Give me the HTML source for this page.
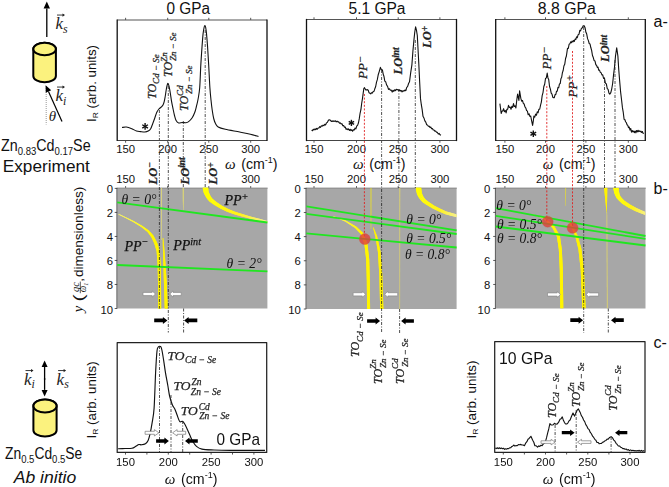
<!DOCTYPE html><html><head><meta charset="utf-8"><style>html,body{margin:0;padding:0;background:#fff;overflow:hidden}svg{display:block}</style></head><body><svg width="669" height="487" viewBox="0 0 669 487">
<rect width="669" height="487" fill="#fff"/>
<line x1="46.8" y1="37" x2="46.8" y2="8.5" stroke="#000" stroke-width="1.3" />
<polygon points="46.8,1.5 50.00,8.50 43.60,8.50" fill="#000"/>
<text x="55.5" y="29" font-size="17" font-family="Liberation Serif, serif" font-style="italic" fill="#222">k<tspan font-size="11.9" dy="3.7">s</tspan></text>
<line x1="57.0" y1="15.06" x2="64.0" y2="15.06" stroke="#222" stroke-width="0.9" />
<polygon points="65.0,15.06 62.5,13.46 62.5,16.66" fill="#222"/>
<path d="M33.3,49 L33.3,76 A11.3,6.3 0 0 0 55.900000000000006,76 L55.900000000000006,49 A11.3,6.3 0 0 0 33.3,49 Z" fill="#fbf27e" stroke="#000" stroke-width="2"/>
<ellipse cx="44.6" cy="49" rx="11.3" ry="6.3" fill="#fbf27e" stroke="#000" stroke-width="2"/>
<line x1="46.2" y1="86" x2="46.2" y2="124.5" stroke="#999" stroke-width="1" stroke-dasharray="1,1"/>
<line x1="62" y1="121.6" x2="48.475468590427525" y2="91.58213760314402" stroke="#000" stroke-width="1.2" />
<polygon points="45.6,85.2 51.21,90.35 45.74,92.81" fill="#000"/>
<text x="55.5" y="101" font-size="17" font-family="Liberation Serif, serif" font-style="italic" fill="#222">k<tspan font-size="11.9" dy="3.7">i</tspan></text>
<line x1="57.0" y1="87.06" x2="64.0" y2="87.06" stroke="#222" stroke-width="0.9" />
<polygon points="65.0,87.06 62.5,85.46000000000001 62.5,88.66" fill="#222"/>
<text x="48.8" y="120.8" font-size="15" font-family="Liberation Serif, serif" fill="#222" text-anchor="start" font-style="italic">θ</text>
<text x="1" y="151.2" font-size="16.5" font-family="Liberation Sans, sans-serif" fill="#111" textLength="89.6" lengthAdjust="spacingAndGlyphs">Zn<tspan font-size="11" dy="4">0.83</tspan><tspan dy="-4">Cd</tspan><tspan font-size="11" dy="4">0.17</tspan><tspan dy="-4">Se</tspan></text>
<text x="2.8" y="171.8" font-size="16.5" font-family="Liberation Sans, sans-serif" fill="#111" textLength="87" lengthAdjust="spacingAndGlyphs">Experiment</text>
<line x1="125.6" y1="17.8" x2="125.6" y2="20" stroke="#444" stroke-width="0.9" />
<line x1="125.6" y1="140.5" x2="125.6" y2="142.7" stroke="#444" stroke-width="0.9" />
<line x1="167.7" y1="17.8" x2="167.7" y2="20" stroke="#444" stroke-width="0.9" />
<line x1="167.7" y1="140.5" x2="167.7" y2="142.7" stroke="#444" stroke-width="0.9" />
<line x1="208.8" y1="17.8" x2="208.8" y2="20" stroke="#444" stroke-width="0.9" />
<line x1="208.8" y1="140.5" x2="208.8" y2="142.7" stroke="#444" stroke-width="0.9" />
<line x1="250.7" y1="17.8" x2="250.7" y2="20" stroke="#444" stroke-width="0.9" />
<line x1="250.7" y1="140.5" x2="250.7" y2="142.7" stroke="#444" stroke-width="0.9" />
<text x="125.6" y="152.8" font-size="11.3" font-family="Liberation Sans, sans-serif" fill="#111" text-anchor="middle" >150</text>
<text x="167.7" y="152.8" font-size="11.3" font-family="Liberation Sans, sans-serif" fill="#111" text-anchor="middle" >200</text>
<text x="208.8" y="152.8" font-size="11.3" font-family="Liberation Sans, sans-serif" fill="#111" text-anchor="middle" >250</text>
<text x="250.7" y="152.8" font-size="11.3" font-family="Liberation Sans, sans-serif" fill="#111" text-anchor="middle" >300</text>
<line x1="314" y1="17.3" x2="314" y2="19.5" stroke="#444" stroke-width="0.9" />
<line x1="314" y1="140.5" x2="314" y2="142.7" stroke="#444" stroke-width="0.9" />
<line x1="356.5" y1="17.3" x2="356.5" y2="19.5" stroke="#444" stroke-width="0.9" />
<line x1="356.5" y1="140.5" x2="356.5" y2="142.7" stroke="#444" stroke-width="0.9" />
<line x1="398.2" y1="17.3" x2="398.2" y2="19.5" stroke="#444" stroke-width="0.9" />
<line x1="398.2" y1="140.5" x2="398.2" y2="142.7" stroke="#444" stroke-width="0.9" />
<line x1="439.9" y1="17.3" x2="439.9" y2="19.5" stroke="#444" stroke-width="0.9" />
<line x1="439.9" y1="140.5" x2="439.9" y2="142.7" stroke="#444" stroke-width="0.9" />
<text x="314" y="152.8" font-size="11.3" font-family="Liberation Sans, sans-serif" fill="#111" text-anchor="middle" >150</text>
<text x="356.5" y="152.8" font-size="11.3" font-family="Liberation Sans, sans-serif" fill="#111" text-anchor="middle" >200</text>
<text x="398.2" y="152.8" font-size="11.3" font-family="Liberation Sans, sans-serif" fill="#111" text-anchor="middle" >250</text>
<text x="439.9" y="152.8" font-size="11.3" font-family="Liberation Sans, sans-serif" fill="#111" text-anchor="middle" >300</text>
<line x1="504.9" y1="17.3" x2="504.9" y2="19.5" stroke="#444" stroke-width="0.9" />
<line x1="504.9" y1="140.5" x2="504.9" y2="142.7" stroke="#444" stroke-width="0.9" />
<line x1="545.5" y1="17.3" x2="545.5" y2="19.5" stroke="#444" stroke-width="0.9" />
<line x1="545.5" y1="140.5" x2="545.5" y2="142.7" stroke="#444" stroke-width="0.9" />
<line x1="585.9" y1="17.3" x2="585.9" y2="19.5" stroke="#444" stroke-width="0.9" />
<line x1="585.9" y1="140.5" x2="585.9" y2="142.7" stroke="#444" stroke-width="0.9" />
<line x1="628.3" y1="17.3" x2="628.3" y2="19.5" stroke="#444" stroke-width="0.9" />
<line x1="628.3" y1="140.5" x2="628.3" y2="142.7" stroke="#444" stroke-width="0.9" />
<text x="504.9" y="152.8" font-size="11.3" font-family="Liberation Sans, sans-serif" fill="#111" text-anchor="middle" >150</text>
<text x="545.5" y="152.8" font-size="11.3" font-family="Liberation Sans, sans-serif" fill="#111" text-anchor="middle" >200</text>
<text x="585.9" y="152.8" font-size="11.3" font-family="Liberation Sans, sans-serif" fill="#111" text-anchor="middle" >250</text>
<text x="628.3" y="152.8" font-size="11.3" font-family="Liberation Sans, sans-serif" fill="#111" text-anchor="middle" >300</text>
<path d="M122.00,127.50 C122.72,127.42 124.67,126.80 126.30,127.00 C127.93,127.20 130.10,128.03 131.80,128.70 C133.50,129.37 135.05,130.52 136.50,131.00 C137.95,131.48 139.10,131.43 140.50,131.60 C141.90,131.77 143.62,132.08 144.90,132.00 C146.18,131.92 147.23,131.65 148.20,131.10 C149.17,130.55 149.95,129.93 150.70,128.70 C151.45,127.47 152.02,125.48 152.70,123.70 C153.38,121.92 154.12,119.92 154.80,118.00 C155.48,116.08 156.12,113.70 156.80,112.20 C157.48,110.70 158.13,109.88 158.90,109.00 C159.67,108.12 160.72,107.58 161.40,106.90 C162.08,106.22 162.53,105.78 163.00,104.90 C163.47,104.02 163.83,103.00 164.20,101.60 C164.57,100.20 164.87,98.43 165.20,96.50 C165.53,94.57 165.88,91.85 166.20,90.00 C166.52,88.15 166.82,86.50 167.10,85.40 C167.38,84.30 167.62,83.40 167.90,83.40 C168.18,83.40 168.48,84.30 168.80,85.40 C169.12,86.50 169.50,88.40 169.80,90.00 C170.10,91.60 170.30,93.07 170.60,95.00 C170.90,96.93 171.22,99.42 171.60,101.60 C171.98,103.78 172.42,105.78 172.90,108.10 C173.38,110.42 173.97,113.43 174.50,115.50 C175.03,117.57 175.42,119.27 176.10,120.50 C176.78,121.73 177.57,122.57 178.60,122.90 C179.63,123.23 181.08,122.53 182.30,122.50 C183.52,122.47 184.85,122.85 185.90,122.70 C186.95,122.55 187.55,122.43 188.60,121.60 C189.65,120.77 191.17,119.25 192.20,117.70 C193.23,116.15 194.08,114.25 194.80,112.30 C195.52,110.35 195.95,108.22 196.50,106.00 C197.05,103.78 197.57,102.03 198.10,99.00 C198.63,95.97 199.25,93.43 199.70,87.80 C200.15,82.17 200.42,71.98 200.80,65.20 C201.18,58.42 201.62,52.37 202.00,47.10 C202.38,41.83 202.73,36.95 203.10,33.60 C203.47,30.25 203.90,28.33 204.20,27.00 C204.50,25.67 204.67,25.60 204.90,25.60 C205.13,25.60 205.33,25.67 205.60,27.00 C205.87,28.33 206.17,30.25 206.50,33.60 C206.83,36.95 207.23,41.83 207.60,47.10 C207.97,52.37 208.32,58.42 208.70,65.20 C209.08,71.98 209.52,82.00 209.90,87.80 C210.28,93.60 210.62,96.30 211.00,100.00 C211.38,103.70 211.75,106.92 212.20,110.00 C212.65,113.08 213.15,116.25 213.70,118.50 C214.25,120.75 214.75,122.08 215.50,123.50 C216.25,124.92 216.57,126.03 218.20,127.00 C219.83,127.97 221.72,128.47 225.30,129.30 C228.88,130.13 235.52,131.18 239.70,132.00 C243.88,132.82 247.27,133.45 250.40,134.20 C253.53,134.95 257.15,136.12 258.50,136.50" fill="none" stroke="#111" stroke-width="1.1"/>
<path d="M311.60,130.05 L312.42,130.79 L313.23,129.22 L314.05,129.97 L314.87,128.96 L315.68,129.66 L316.50,128.42 L317.32,129.25 L318.13,127.95 L318.95,127.93 L319.77,126.64 L320.58,127.35 L321.40,125.85 L322.23,126.19 L323.07,125.12 L323.90,125.72 L324.73,124.33 L325.57,124.93 L326.40,122.96 L327.33,122.38 L328.27,120.52 L329.20,119.71 L330.50,120.34 L331.32,121.50 L332.14,120.80 L332.96,121.53 L333.78,120.92 L334.60,121.40 L335.43,120.78 L336.25,121.83 L337.07,121.17 L337.90,121.91 L338.72,121.86 L339.54,123.17 L340.36,122.93 L341.18,124.01 L342.00,123.70 L342.82,125.78 L343.64,125.55 L344.46,127.26 L345.28,127.04 L346.10,129.41 L346.93,128.74 L347.75,129.62 L348.57,128.90 L349.40,130.42 L350.20,129.24 L351.00,130.63 L351.80,129.71 L352.60,131.19 L353.43,129.65 L354.25,129.94 L355.07,128.08 L355.90,128.90 L356.73,126.05 L357.57,125.40 L358.40,123.02 L359.23,118.88 L360.07,113.26 L360.90,109.73 L361.70,103.28 L362.50,98.31 L363.80,88.59 L364.50,87.69 L365.80,90.00 L367.40,89.64 L368.23,90.21 L369.07,92.86 L369.90,93.21 L370.73,93.85 L371.57,92.69 L372.40,93.08 L373.20,91.61 L374.00,91.31 L374.80,88.81 L375.63,86.74 L376.47,82.39 L377.30,79.67 L378.30,74.47 L379.30,71.29 L380.40,67.35 L381.40,69.76 L382.40,69.79 L383.20,74.08 L384.00,76.54 L384.80,81.07 L385.73,81.92 L386.65,85.05 L387.57,86.42 L388.50,89.41 L389.43,88.75 L390.35,90.31 L391.27,90.11 L392.20,92.09 L393.03,90.34 L393.87,91.37 L394.70,89.72 L395.53,90.56 L396.37,89.21 L397.20,89.83 L398.02,89.54 L398.83,90.78 L399.65,89.88 L400.47,91.02 L401.28,90.58 L402.10,91.87 L403.03,90.71 L403.95,91.18 L404.88,90.00 L405.80,90.76 L406.73,87.47 L407.65,86.30 L408.57,83.50 L409.50,81.81 L410.70,72.63 L411.90,64.83 L412.90,51.29 L413.90,40.37 L414.75,32.28 L415.60,26.88 L416.45,30.18 L417.30,35.50 L418.80,63.71 L419.65,81.76 L420.50,98.63 L421.33,104.70 L422.17,109.62 L423.00,116.32 L423.93,117.92 L424.85,120.86 L425.77,122.07 L426.70,124.80 L427.52,124.95 L428.33,126.33 L429.15,126.18 L429.97,127.40 L430.78,127.07 L431.60,128.75 L432.42,128.55 L433.23,130.00 L434.05,129.97 L434.87,131.17 L435.68,130.95 L436.50,132.28 L437.40,132.41 L438.30,134.02 L439.20,133.43 L440.10,134.85 L441.00,135.20" fill="none" stroke="#111" stroke-width="1.1" stroke-linejoin="round"/>
<path d="M499.90,103.65 L501.20,113.55 L502.00,111.15 L502.80,110.98 L503.60,108.67 L504.43,111.66 L505.27,110.51 L506.10,112.88 L506.90,109.38 L507.70,109.12 L508.50,105.34 L509.33,107.42 L510.17,107.09 L511.00,109.27 L511.83,106.35 L512.67,107.43 L513.50,103.65 L514.30,106.56 L515.10,105.84 L515.90,107.94 L516.75,100.30 L517.60,94.09 L518.90,100.46 L519.60,90.79 L520.80,98.14 L521.63,101.22 L522.47,100.46 L523.30,103.34 L524.13,104.03 L524.97,106.85 L525.80,108.00 L526.60,110.64 L527.40,111.08 L528.20,114.80 L529.03,113.77 L529.87,116.42 L530.70,116.01 L531.80,121.59 L532.60,125.48 L533.20,121.70 L533.90,116.15 L534.75,117.08 L535.60,114.17 L536.43,115.25 L537.27,111.87 L538.10,112.73 L538.90,109.22 L539.70,109.24 L540.50,105.46 L541.33,102.08 L542.17,95.56 L543.00,92.62 L543.83,86.52 L544.67,84.32 L545.50,78.47 L546.35,77.83 L547.20,73.00 L547.95,77.99 L548.70,79.45 L549.55,86.47 L550.40,89.19 L551.20,93.12 L552.00,94.01 L552.80,97.25 L553.60,97.81 L554.33,97.68 L555.05,94.50 L555.77,94.69 L556.50,91.39 L557.24,91.22 L557.98,87.42 L558.72,87.71 L559.46,83.98 L560.20,83.60 L560.94,78.66 L561.68,77.27 L562.42,72.62 L563.16,70.48 L563.90,66.01 L564.73,64.33 L565.57,58.49 L566.40,56.04 L567.50,48.39 L568.30,48.48 L569.10,44.23 L569.90,43.86 L570.64,41.87 L571.38,42.72 L572.12,40.96 L572.86,41.94 L573.60,40.40 L574.34,41.33 L575.08,39.05 L575.82,39.48 L576.56,36.79 L577.30,37.71 L578.13,34.69 L578.97,34.31 L579.80,30.40 L580.60,30.87 L581.40,28.34 L582.20,28.04 L583.20,25.71 L584.20,25.86 L585.05,27.65 L585.90,32.35 L586.73,34.08 L587.57,38.65 L588.40,40.62 L589.20,43.49 L590.00,43.93 L590.80,47.52 L591.63,50.35 L592.47,55.48 L593.30,57.54 L594.13,60.54 L594.97,60.98 L595.80,64.72 L596.54,65.24 L597.28,67.40 L598.02,67.12 L598.76,70.29 L599.50,70.12 L600.30,72.34 L601.10,72.67 L601.90,74.93 L602.73,74.78 L603.57,78.50 L604.40,77.90 L605.40,83.20 L606.40,84.04 L607.25,88.69 L608.10,89.45 L608.95,93.14 L609.80,94.15 L610.80,92.59 L611.80,88.53 L612.65,83.48 L613.50,75.43 L614.50,67.14 L615.50,56.03 L616.70,47.77 L617.90,56.10 L618.75,69.61 L619.60,80.24 L620.60,91.88 L621.60,100.31 L622.43,107.66 L623.27,112.45 L624.10,119.34 L624.84,119.55 L625.58,121.74 L626.32,122.59 L627.06,124.77 L627.80,125.44 L628.54,127.72 L629.28,127.01 L630.02,130.08 L630.76,128.57 L631.50,132.09 L632.24,130.54 L632.98,132.00 L633.72,131.00 L634.46,132.63 L635.20,131.09 L635.92,132.85 L636.64,130.52 L637.36,131.81 L638.08,130.34 L638.80,131.61 L639.51,130.88 L640.23,131.78 L640.94,131.14 L641.66,132.55 L642.37,131.50 L643.09,133.37 L643.80,133.20" fill="none" stroke="#111" stroke-width="1.1" stroke-linejoin="round"/>
<rect x="117.2" y="187.8" width="150.2" height="120.69999999999999" fill="#a7a7a7"/>
<line x1="117.2" y1="188.20000000000002" x2="267.7" y2="188.20000000000002" stroke="#8a8a8a" stroke-width="0.9" />
<line x1="125.6" y1="186.20000000000002" x2="125.6" y2="187.8" stroke="#333" stroke-width="0.9" />
<line x1="167.7" y1="186.20000000000002" x2="167.7" y2="187.8" stroke="#333" stroke-width="0.9" />
<line x1="208.8" y1="186.20000000000002" x2="208.8" y2="187.8" stroke="#333" stroke-width="0.9" />
<line x1="250.7" y1="186.20000000000002" x2="250.7" y2="187.8" stroke="#333" stroke-width="0.9" />
<line x1="116.9" y1="187.8" x2="116.9" y2="308.5" stroke="#333" stroke-width="0.8" />
<line x1="114.7" y1="188.4" x2="117.2" y2="188.4" stroke="#333" stroke-width="0.8" />
<line x1="114.7" y1="212.42000000000002" x2="117.2" y2="212.42000000000002" stroke="#333" stroke-width="0.8" />
<line x1="114.7" y1="236.44" x2="117.2" y2="236.44" stroke="#333" stroke-width="0.8" />
<line x1="114.7" y1="260.46" x2="117.2" y2="260.46" stroke="#333" stroke-width="0.8" />
<line x1="114.7" y1="284.48" x2="117.2" y2="284.48" stroke="#333" stroke-width="0.8" />
<line x1="114.7" y1="308.5" x2="117.2" y2="308.5" stroke="#333" stroke-width="0.8" />
<rect x="306.3" y="187.8" width="150.3" height="121.19999999999999" fill="#a7a7a7"/>
<line x1="306.3" y1="188.20000000000002" x2="456.90000000000003" y2="188.20000000000002" stroke="#8a8a8a" stroke-width="0.9" />
<line x1="314" y1="186.20000000000002" x2="314" y2="187.8" stroke="#333" stroke-width="0.9" />
<line x1="356.5" y1="186.20000000000002" x2="356.5" y2="187.8" stroke="#333" stroke-width="0.9" />
<line x1="398.2" y1="186.20000000000002" x2="398.2" y2="187.8" stroke="#333" stroke-width="0.9" />
<line x1="439.9" y1="186.20000000000002" x2="439.9" y2="187.8" stroke="#333" stroke-width="0.9" />
<line x1="306.0" y1="187.8" x2="306.0" y2="309" stroke="#333" stroke-width="0.8" />
<line x1="303.8" y1="188.4" x2="306.3" y2="188.4" stroke="#333" stroke-width="0.8" />
<line x1="303.8" y1="212.52" x2="306.3" y2="212.52" stroke="#333" stroke-width="0.8" />
<line x1="303.8" y1="236.64" x2="306.3" y2="236.64" stroke="#333" stroke-width="0.8" />
<line x1="303.8" y1="260.76" x2="306.3" y2="260.76" stroke="#333" stroke-width="0.8" />
<line x1="303.8" y1="284.88" x2="306.3" y2="284.88" stroke="#333" stroke-width="0.8" />
<line x1="303.8" y1="309.0" x2="306.3" y2="309.0" stroke="#333" stroke-width="0.8" />
<rect x="495.7" y="187.8" width="149.8" height="120.69999999999999" fill="#a7a7a7"/>
<line x1="495.7" y1="188.20000000000002" x2="645.8" y2="188.20000000000002" stroke="#8a8a8a" stroke-width="0.9" />
<line x1="504.9" y1="186.20000000000002" x2="504.9" y2="187.8" stroke="#333" stroke-width="0.9" />
<line x1="545.5" y1="186.20000000000002" x2="545.5" y2="187.8" stroke="#333" stroke-width="0.9" />
<line x1="585.9" y1="186.20000000000002" x2="585.9" y2="187.8" stroke="#333" stroke-width="0.9" />
<line x1="628.3" y1="186.20000000000002" x2="628.3" y2="187.8" stroke="#333" stroke-width="0.9" />
<line x1="495.4" y1="187.8" x2="495.4" y2="308.5" stroke="#333" stroke-width="0.8" />
<line x1="493.2" y1="188.4" x2="495.7" y2="188.4" stroke="#333" stroke-width="0.8" />
<line x1="493.2" y1="212.42000000000002" x2="495.7" y2="212.42000000000002" stroke="#333" stroke-width="0.8" />
<line x1="493.2" y1="236.44" x2="495.7" y2="236.44" stroke="#333" stroke-width="0.8" />
<line x1="493.2" y1="260.46" x2="495.7" y2="260.46" stroke="#333" stroke-width="0.8" />
<line x1="493.2" y1="284.48" x2="495.7" y2="284.48" stroke="#333" stroke-width="0.8" />
<line x1="493.2" y1="308.5" x2="495.7" y2="308.5" stroke="#333" stroke-width="0.8" />
<text x="125.6" y="183.2" font-size="11.3" font-family="Liberation Sans, sans-serif" fill="#111" text-anchor="middle" >150</text>
<text x="250.7" y="183.2" font-size="11.3" font-family="Liberation Sans, sans-serif" fill="#111" text-anchor="middle" >300</text>
<text x="314" y="183.2" font-size="11.3" font-family="Liberation Sans, sans-serif" fill="#111" text-anchor="middle" >150</text>
<text x="356.5" y="183.2" font-size="11.3" font-family="Liberation Sans, sans-serif" fill="#111" text-anchor="middle" >200</text>
<text x="398.2" y="183.2" font-size="11.3" font-family="Liberation Sans, sans-serif" fill="#111" text-anchor="middle" >250</text>
<text x="439.9" y="183.2" font-size="11.3" font-family="Liberation Sans, sans-serif" fill="#111" text-anchor="middle" >300</text>
<text x="504.9" y="183.2" font-size="11.3" font-family="Liberation Sans, sans-serif" fill="#111" text-anchor="middle" >150</text>
<text x="545.5" y="183.2" font-size="11.3" font-family="Liberation Sans, sans-serif" fill="#111" text-anchor="middle" >200</text>
<text x="585.9" y="183.2" font-size="11.3" font-family="Liberation Sans, sans-serif" fill="#111" text-anchor="middle" >250</text>
<text x="628.3" y="183.2" font-size="11.3" font-family="Liberation Sans, sans-serif" fill="#111" text-anchor="middle" >300</text>
<text x="113.0" y="193.4" font-size="11.3" font-family="Liberation Sans, sans-serif" fill="#111" text-anchor="end" >0</text>
<text x="113.0" y="217.42000000000002" font-size="11.3" font-family="Liberation Sans, sans-serif" fill="#111" text-anchor="end" >2</text>
<text x="113.0" y="241.44" font-size="11.3" font-family="Liberation Sans, sans-serif" fill="#111" text-anchor="end" >4</text>
<text x="113.0" y="265.46000000000004" font-size="11.3" font-family="Liberation Sans, sans-serif" fill="#111" text-anchor="end" >6</text>
<text x="113.0" y="289.48" font-size="11.3" font-family="Liberation Sans, sans-serif" fill="#111" text-anchor="end" >8</text>
<text x="113.0" y="313.5" font-size="11.3" font-family="Liberation Sans, sans-serif" fill="#111" text-anchor="end" >10</text>
<text x="300.8" y="193.4" font-size="11.3" font-family="Liberation Sans, sans-serif" fill="#111" text-anchor="end" >0</text>
<text x="300.8" y="217.42000000000002" font-size="11.3" font-family="Liberation Sans, sans-serif" fill="#111" text-anchor="end" >2</text>
<text x="300.8" y="241.44" font-size="11.3" font-family="Liberation Sans, sans-serif" fill="#111" text-anchor="end" >4</text>
<text x="300.8" y="265.46000000000004" font-size="11.3" font-family="Liberation Sans, sans-serif" fill="#111" text-anchor="end" >6</text>
<text x="300.8" y="289.48" font-size="11.3" font-family="Liberation Sans, sans-serif" fill="#111" text-anchor="end" >8</text>
<text x="300.8" y="313.5" font-size="11.3" font-family="Liberation Sans, sans-serif" fill="#111" text-anchor="end" >10</text>
<text x="490.2" y="193.4" font-size="11.3" font-family="Liberation Sans, sans-serif" fill="#111" text-anchor="end" >0</text>
<text x="490.2" y="217.42000000000002" font-size="11.3" font-family="Liberation Sans, sans-serif" fill="#111" text-anchor="end" >2</text>
<text x="490.2" y="241.44" font-size="11.3" font-family="Liberation Sans, sans-serif" fill="#111" text-anchor="end" >4</text>
<text x="490.2" y="265.46000000000004" font-size="11.3" font-family="Liberation Sans, sans-serif" fill="#111" text-anchor="end" >6</text>
<text x="490.2" y="289.48" font-size="11.3" font-family="Liberation Sans, sans-serif" fill="#111" text-anchor="end" >8</text>
<text x="490.2" y="313.5" font-size="11.3" font-family="Liberation Sans, sans-serif" fill="#111" text-anchor="end" >10</text>
<text x="188.3" y="14.4" font-size="16" font-family="Liberation Sans, sans-serif" fill="#111" text-anchor="middle" textLength="43.5" lengthAdjust="spacingAndGlyphs">0 GPa</text>
<text x="377" y="14.2" font-size="16" font-family="Liberation Sans, sans-serif" fill="#111" text-anchor="middle" textLength="57" lengthAdjust="spacingAndGlyphs">5.1 GPa</text>
<text x="566.8" y="14.2" font-size="16" font-family="Liberation Sans, sans-serif" fill="#111" text-anchor="middle" textLength="58" lengthAdjust="spacingAndGlyphs">8.8 GPa</text>
<text x="653.5" y="26.6" font-size="16" font-family="Liberation Sans, sans-serif" fill="#111" text-anchor="start" >a-</text>
<text x="653.5" y="193.6" font-size="16" font-family="Liberation Sans, sans-serif" fill="#111" text-anchor="start" >b-</text>
<text x="653.5" y="348" font-size="16" font-family="Liberation Sans, sans-serif" fill="#111" text-anchor="start" >c-</text>
<text x="225" y="168.8" font-size="15" font-family="Liberation Serif, serif" font-style="italic" fill="#111">ω</text>
<text x="241.2" y="168.8" font-size="14.2" font-family="Liberation Sans, sans-serif" fill="#111">(cm<tspan font-size="9.0" dy="-6.0">-1</tspan><tspan dy="6.0">)</tspan></text>
<text x="353" y="168.8" font-size="15" font-family="Liberation Serif, serif" font-style="italic" fill="#111">ω</text>
<text x="369.2" y="168.8" font-size="14.2" font-family="Liberation Sans, sans-serif" fill="#111">(cm<tspan font-size="9.0" dy="-6.0">-1</tspan><tspan dy="6.0">)</tspan></text>
<text x="542.8" y="168.8" font-size="15" font-family="Liberation Serif, serif" font-style="italic" fill="#111">ω</text>
<text x="559.0" y="168.8" font-size="14.2" font-family="Liberation Sans, sans-serif" fill="#111">(cm<tspan font-size="9.0" dy="-6.0">-1</tspan><tspan dy="6.0">)</tspan></text>
<text transform="translate(95.6,122) rotate(-90)" font-size="12.5" font-family="Liberation Sans, sans-serif" fill="#111" textLength="77" lengthAdjust="spacingAndGlyphs">I<tspan font-size="8" dy="2.5">R</tspan><tspan dy="-2.5"> (arb. units)</tspan></text>
<text transform="translate(155.8,99) rotate(-90)" font-size="12" font-family="Liberation Serif, serif" font-style="italic"  fill="#222" stroke="#222" stroke-width="0.25">TO<tspan font-size="9.0" dy="3.6">Cd − Se</tspan></text>
<text transform="translate(172.3,77) rotate(-90)" font-size="12" font-family="Liberation Serif, serif" font-style="italic"  fill="#222" stroke="#222" stroke-width="0.25">TO<tspan font-size="9.0" dy="-5.4">Zn</tspan><tspan font-size="9.0" dx="-8.6" dy="9.4">Zn − Se</tspan></text>
<text transform="translate(188.4,111) rotate(-90)" font-size="12" font-family="Liberation Serif, serif" font-style="italic"  fill="#222" stroke="#222" stroke-width="0.25">TO<tspan font-size="9.0" dy="-5.4">Cd</tspan><tspan font-size="9.0" dx="-8.6" dy="9.4">Zn − Se</tspan></text>
<line x1="145.1" y1="123.1" x2="145.1" y2="129.7" stroke="#111" stroke-width="1.4" />
<line x1="142.24" y1="124.75" x2="147.96" y2="128.05" stroke="#111" stroke-width="1.4" />
<line x1="147.96" y1="124.75" x2="142.24" y2="128.05" stroke="#111" stroke-width="1.4" />
<text transform="translate(367.1,79) rotate(-90)" font-size="13" font-family="Liberation Serif, serif" font-style="italic"  fill="#222" stroke="#222" stroke-width="0.25">PP<tspan font-size="11.0" dy="-3.0">−</tspan></text>
<text transform="translate(401.5,74.5) rotate(-90)" font-size="12.5" font-family="Liberation Serif, serif" font-style="italic" font-weight="bold" fill="#222" stroke="#222" stroke-width="0.25">LO<tspan font-size="9.5" dy="-2.5">int</tspan></text>
<text transform="translate(431,48) rotate(-90)" font-size="12.5" font-family="Liberation Serif, serif" font-style="italic" font-weight="bold" fill="#222" stroke="#222" stroke-width="0.25">LO<tspan font-size="9.5" dy="-3.5">+</tspan></text>
<line x1="351.4" y1="119.8" x2="351.4" y2="126.0" stroke="#111" stroke-width="1.4" />
<line x1="348.72" y1="121.35" x2="354.08" y2="124.45" stroke="#111" stroke-width="1.4" />
<line x1="354.08" y1="121.35" x2="348.72" y2="124.45" stroke="#111" stroke-width="1.4" />
<text transform="translate(550.6,69.5) rotate(-90)" font-size="13" font-family="Liberation Serif, serif" font-style="italic"  fill="#222" stroke="#222" stroke-width="0.25">PP<tspan font-size="11.0" dy="-3.0">−</tspan></text>
<text transform="translate(576.6,97.5) rotate(-90)" font-size="13" font-family="Liberation Serif, serif" font-style="italic"  fill="#222" stroke="#222" stroke-width="0.25">PP<tspan font-size="10.0" dy="-3.5">+</tspan></text>
<text transform="translate(609,62) rotate(-90)" font-size="12.5" font-family="Liberation Serif, serif" font-style="italic" font-weight="bold" fill="#222" stroke="#222" stroke-width="0.25">LO<tspan font-size="9.5" dy="-2.5">int</tspan></text>
<line x1="533.3" y1="130.5" x2="533.3" y2="137.1" stroke="#111" stroke-width="1.4" />
<line x1="530.44" y1="132.15" x2="536.16" y2="135.45" stroke="#111" stroke-width="1.4" />
<line x1="536.16" y1="132.15" x2="530.44" y2="135.45" stroke="#111" stroke-width="1.4" />
<text transform="translate(156.5,184.5) rotate(-90)" font-size="12.5" font-family="Liberation Serif, serif" font-style="italic" font-weight="bold" fill="#222" stroke="#222" stroke-width="0.25">LO<tspan font-size="9.5" dy="-3.9">−</tspan></text>
<text transform="translate(189,184.5) rotate(-90)" font-size="12.5" font-family="Liberation Serif, serif" font-style="italic" font-weight="bold" fill="#222" stroke="#222" stroke-width="0.25">LO<tspan font-size="9.5" dy="-4.0">int</tspan></text>
<text transform="translate(216.5,184.5) rotate(-90)" font-size="12.5" font-family="Liberation Serif, serif" font-style="italic" font-weight="bold" fill="#222" stroke="#222" stroke-width="0.25">LO<tspan font-size="9.5" dy="-2.3">+</tspan></text>
<defs>
<clipPath id="g0"><rect x="117.2" y="187.8" width="150.2" height="120.69999999999999"/></clipPath>
<clipPath id="g1"><rect x="306.3" y="187.8" width="150.3" height="121.19999999999999"/></clipPath>
<clipPath id="g2"><rect x="495.7" y="187.8" width="149.8" height="120.69999999999999"/></clipPath>
<linearGradient id="ppfade1" x1="0" y1="0" x2="1" y2="0"><stop offset="0" stop-color="#ffff00"/><stop offset="0.55" stop-color="#fff21a"/><stop offset="1" stop-color="#f4ef9a"/></linearGradient>
<linearGradient id="ppm0" gradientUnits="userSpaceOnUse" x1="118" y1="0" x2="152" y2="0"><stop offset="0" stop-color="#f2ee70"/><stop offset="0.5" stop-color="#fbf530"/><stop offset="1" stop-color="#fff500"/></linearGradient>
<linearGradient id="ppm1" gradientUnits="userSpaceOnUse" x1="333" y1="0" x2="362" y2="0"><stop offset="0" stop-color="#f2ee70"/><stop offset="0.5" stop-color="#fbf530"/><stop offset="1" stop-color="#fff500"/></linearGradient>
<linearGradient id="ppm2" gradientUnits="userSpaceOnUse" x1="530" y1="0" x2="553" y2="0"><stop offset="0" stop-color="#f2ee70"/><stop offset="0.5" stop-color="#fbf530"/><stop offset="1" stop-color="#fff500"/></linearGradient>
<filter id="glow" x="-10%" y="-10%" width="120%" height="120%"><feGaussianBlur stdDeviation="0.55" result="b"/><feMerge><feMergeNode in="b"/><feMergeNode in="SourceGraphic"/></feMerge></filter>
</defs>
<g clip-path="url(#g0)"><g filter="url(#glow)">
<polygon points="202.31,185.29 202.93,189.37 203.82,192.97 205.54,196.23 207.24,199.03 209.76,201.68 214.38,205.08 220.83,208.81 227.13,211.63 233.46,213.92 239.06,215.65 250.71,218.86 259.73,221.12 268.74,223.47 269.26,221.53 260.27,219.08 251.29,216.74 239.74,213.35 234.34,211.48 228.27,208.97 222.37,205.99 216.42,202.12 212.44,198.72 210.76,196.57 209.66,194.17 208.58,191.43 208.27,188.63 208.09,184.71" fill="url(#ppfade1)" fill-opacity="1" clip-path="url(#g0)"/>
<polygon points="118.38,214.58 119.76,215.22 125.00,217.71 133.13,221.88 141.28,227.02 147.52,232.03 151.25,236.88 153.89,242.61 154.97,245.46 156.62,251.32 157.60,263.47 158.00,281.92 158.20,309.01 161.20,308.99 161.00,281.88 160.60,263.33 159.58,250.88 157.83,244.54 156.51,241.39 153.35,235.52 148.88,230.57 142.12,225.78 133.67,220.92 125.40,216.89 120.04,214.58 118.62,214.02" fill="url(#ppm0)" fill-opacity="1" clip-path="url(#g0)"/>
<polygon points="161.00,187.80 161.05,215.00 161.20,240.00 161.80,240.00 161.95,215.00 162.00,187.80" fill="#e8e070" fill-opacity="0.5" clip-path="url(#g0)"/>
<polygon points="162.75,238.01 162.80,245.03 163.30,261.45 163.90,281.96 164.75,309.06 167.85,308.94 166.70,281.84 165.30,261.35 164.00,244.97 163.25,237.99" fill="#fff200" fill-opacity="0.95" clip-path="url(#g0)"/>
<polygon points="182.70,187.80 182.80,200.00 183.10,210.00 183.50,210.00 183.80,200.00 183.90,187.80" fill="#e0d870" fill-opacity="0.7" clip-path="url(#g0)"/>
</g></g>
<g clip-path="url(#g1)"><g filter="url(#glow)">
<polygon points="415.51,185.21 415.92,189.35 416.99,194.05 418.45,197.05 420.20,199.54 422.69,202.24 426.41,204.80 432.79,208.54 439.05,211.61 445.41,214.16 451.03,215.70 457.67,217.41 458.33,214.99 451.77,213.10 446.39,211.44 440.35,208.79 434.41,205.66 428.39,201.80 425.31,199.36 423.60,197.06 422.55,194.95 421.81,192.75 421.28,188.65 421.09,184.79" fill="url(#ppfade1)" fill-opacity="1" clip-path="url(#g1)"/>
<polygon points="332.89,216.48 334.98,217.33 345.15,221.39 355.05,228.01 361.04,234.36 364.43,244.32 366.20,259.50 366.80,280.03 367.10,309.52 370.10,309.48 369.80,279.97 369.20,259.30 367.37,243.68 363.16,233.04 356.15,226.59 345.65,220.41 335.22,216.67 333.11,215.92" fill="url(#ppm1)" fill-opacity="1" clip-path="url(#g1)"/>
<polygon points="370.50,187.80 370.55,215.00 370.75,229.00 371.25,229.00 371.45,215.00 371.50,187.80" fill="#fff200" fill-opacity="0.4" clip-path="url(#g1)"/>
<polygon points="373.02,227.59 375.33,236.51 377.91,251.85 379.30,274.77 380.20,309.55 383.40,309.45 382.30,274.63 380.49,251.55 377.07,236.09 373.58,227.41" fill="#fff200" fill-opacity="0.95" clip-path="url(#g1)"/>
<polygon points="399.10,187.80 399.20,212.00 399.30,309.50 400.10,309.50 400.20,212.00 400.30,187.80" fill="#d8d070" fill-opacity="0.55" clip-path="url(#g1)"/>
</g></g>
<g clip-path="url(#g2)"><g filter="url(#glow)">
<polygon points="613.15,185.14 613.51,189.25 614.21,192.76 615.40,195.81 616.75,198.26 619.08,200.84 622.32,203.74 628.74,207.77 635.01,210.94 641.33,213.59 647.01,215.61 647.99,212.99 642.47,210.81 636.39,208.06 630.46,204.83 624.48,200.86 621.92,198.16 620.25,195.94 619.60,194.19 618.99,191.64 618.69,188.75 618.65,184.86" fill="url(#ppfade1)" fill-opacity="1" clip-path="url(#g2)"/>
<polygon points="529.96,214.75 535.31,215.64 542.82,218.33 547.09,222.36 552.49,228.04 556.97,236.75 558.81,249.23 559.80,269.64 560.30,309.02 563.30,308.98 562.80,269.56 561.79,248.97 559.83,235.85 554.51,226.56 548.31,221.04 543.38,217.27 535.49,214.96 530.04,214.25" fill="url(#ppm2)" fill-opacity="1" clip-path="url(#g2)"/>
<polygon points="565.10,187.80 565.20,198.00 565.40,206.00 565.80,206.00 566.00,198.00 566.10,187.80" fill="#fff200" fill-opacity="0.35" clip-path="url(#g2)"/>
<polygon points="568.73,221.14 571.79,228.20 575.37,236.72 578.42,249.35 580.70,269.71 582.30,309.07 585.70,308.93 583.90,269.49 581.38,248.85 577.83,235.88 573.41,227.40 569.27,220.86" fill="#fff200" fill-opacity="0.95" clip-path="url(#g2)"/>
<polygon points="604.00,187.00 604.80,195.00 605.80,205.00 606.50,213.00 606.60,213.00 607.00,205.00 607.20,195.00 607.30,187.00" fill="#fff200" fill-opacity="0.95" clip-path="url(#g2)"/>
<polygon points="606.40,212.00 606.90,309.00 607.90,309.00 607.20,212.00" fill="#d8d070" fill-opacity="0.6" clip-path="url(#g2)"/>
</g></g>
<line x1="117.2" y1="202.4" x2="267.4" y2="222.5" stroke="#20e620" stroke-width="1.8" />
<line x1="117.2" y1="265.0" x2="267.4" y2="271.4" stroke="#20e620" stroke-width="1.8" />
<line x1="306.3" y1="206.4" x2="456.6" y2="230.3" stroke="#20e620" stroke-width="1.8" />
<line x1="306.3" y1="213.9" x2="456.6" y2="234.0" stroke="#20e620" stroke-width="1.8" />
<line x1="306.3" y1="233.4" x2="456.6" y2="247.5" stroke="#20e620" stroke-width="1.8" />
<line x1="495.7" y1="208.2" x2="645.5" y2="236.0" stroke="#20e620" stroke-width="1.8" />
<line x1="495.7" y1="215.9" x2="645.5" y2="238.9" stroke="#20e620" stroke-width="1.8" />
<line x1="495.7" y1="226.5" x2="645.5" y2="245.5" stroke="#20e620" stroke-width="1.8" />
<line x1="159.4" y1="110" x2="159.4" y2="308.5" stroke="#222" stroke-width="0.8" stroke-dasharray="3,1.5,1,1.5"/>
<line x1="168.3" y1="86" x2="168.3" y2="332.5" stroke="#222" stroke-width="0.8" stroke-dasharray="3,1.5,1,1.5"/>
<line x1="183.3" y1="121" x2="183.3" y2="188" stroke="#222" stroke-width="0.8" stroke-dasharray="3,1.5,1,1.5"/>
<line x1="183.6" y1="308.5" x2="183.6" y2="332.5" stroke="#222" stroke-width="0.8" stroke-dasharray="3,1.5,1,1.5"/>
<line x1="205.2" y1="30" x2="205.2" y2="188" stroke="#222" stroke-width="0.8" stroke-dasharray="3,1.5,1,1.5"/>
<line x1="364.4" y1="94" x2="364.4" y2="238" stroke="#e02020" stroke-width="0.9" stroke-dasharray="2,1.6"/>
<line x1="381.6" y1="70" x2="381.6" y2="333" stroke="#222" stroke-width="0.8" stroke-dasharray="3,1.5,1,1.5"/>
<line x1="398.9" y1="89" x2="398.9" y2="188" stroke="#222" stroke-width="0.8" stroke-dasharray="3,1.5,1,1.5"/>
<line x1="399.6" y1="309" x2="399.6" y2="333" stroke="#222" stroke-width="0.8" stroke-dasharray="3,1.5,1,1.5"/>
<line x1="415.3" y1="40" x2="415.3" y2="188" stroke="#222" stroke-width="0.8" stroke-dasharray="3,1.5,1,1.5"/>
<line x1="546.8" y1="86" x2="546.8" y2="222" stroke="#e02020" stroke-width="0.9" stroke-dasharray="2,1.6"/>
<line x1="572.5" y1="51" x2="572.5" y2="228" stroke="#e02020" stroke-width="0.9" stroke-dasharray="2,1.6"/>
<line x1="583.7" y1="27" x2="583.7" y2="333" stroke="#222" stroke-width="0.8" stroke-dasharray="3,1.5,1,1.5"/>
<line x1="604.5" y1="80" x2="604.5" y2="188" stroke="#222" stroke-width="0.8" stroke-dasharray="3,1.5,1,1.5"/>
<line x1="608.3" y1="308.5" x2="608.3" y2="333" stroke="#222" stroke-width="0.8" stroke-dasharray="3,1.5,1,1.5"/>
<line x1="615" y1="60" x2="615" y2="188" stroke="#222" stroke-width="0.8" stroke-dasharray="3,1.5,1,1.5"/>
<circle cx="364.8" cy="239.1" r="5.5" fill="#e2403a" fill-opacity="0.8" stroke="#d04a30" stroke-width="0.5" stroke-opacity="0.6"/>
<circle cx="547.7" cy="221.7" r="5.5" fill="#e2403a" fill-opacity="0.8" stroke="#d04a30" stroke-width="0.5" stroke-opacity="0.6"/>
<circle cx="572.6" cy="227.8" r="5.5" fill="#e2403a" fill-opacity="0.8" stroke="#d04a30" stroke-width="0.5" stroke-opacity="0.6"/>
<polygon points="143.00,292.40 152.20,292.40 152.20,290.90 155.40,294.00 152.20,297.10 152.20,295.60 143.00,295.60" fill="#ffffff" stroke="#8a8a8a" stroke-width="0.7"/>
<polygon points="181.20,292.40 173.00,292.40 173.00,290.90 169.80,294.00 173.00,297.10 173.00,295.60 181.20,295.60" fill="#ffffff" stroke="#8a8a8a" stroke-width="0.7"/>
<polygon points="353.10,292.70 362.30,292.70 362.30,291.20 365.50,294.30 362.30,297.40 362.30,295.90 353.10,295.90" fill="#ffffff" stroke="#8a8a8a" stroke-width="0.7"/>
<polygon points="397.70,292.70 387.90,292.70 387.90,291.20 384.70,294.30 387.90,297.40 387.90,295.90 397.70,295.90" fill="#ffffff" stroke="#8a8a8a" stroke-width="0.7"/>
<polygon points="547.50,292.90 557.20,292.90 557.20,291.40 560.40,294.50 557.20,297.60 557.20,296.10 547.50,296.10" fill="#ffffff" stroke="#8a8a8a" stroke-width="0.7"/>
<polygon points="598.60,292.90 589.40,292.90 589.40,291.40 586.20,294.50 589.40,297.60 589.40,296.10 598.60,296.10" fill="#ffffff" stroke="#8a8a8a" stroke-width="0.7"/>
<polygon points="154.20,318.55 162.90,318.55 162.90,316.90 167.40,320.40 162.90,323.90 162.90,322.25 154.20,322.25" fill="#000" />
<polygon points="197.30,318.55 188.60,318.55 188.60,316.90 184.10,320.40 188.60,323.90 188.60,322.25 197.30,322.25" fill="#000" />
<polygon points="367.10,319.15 375.60,319.15 375.60,317.50 380.10,321.00 375.60,324.50 375.60,322.85 367.10,322.85" fill="#000" />
<polygon points="413.90,319.15 405.60,319.15 405.60,317.50 401.10,321.00 405.60,324.50 405.60,322.85 413.90,322.85" fill="#000" />
<polygon points="570.30,318.35 578.60,318.35 578.60,316.70 583.10,320.20 578.60,323.70 578.60,322.05 570.30,322.05" fill="#000" />
<polygon points="623.80,318.35 615.50,318.35 615.50,316.70 611.00,320.20 615.50,323.70 615.50,322.05 623.80,322.05" fill="#000" />
<text x="121.5" y="204.1" font-size="14.3" font-family="Liberation Serif, serif" font-style="italic" fill="#111" textLength="35" lengthAdjust="spacingAndGlyphs">θ = 0°</text>
<text x="226.6" y="267.7" font-size="14.3" font-family="Liberation Serif, serif" font-style="italic" fill="#111" textLength="35" lengthAdjust="spacingAndGlyphs">θ = 2°</text>
<text x="406.3" y="224.1" font-size="14.3" font-family="Liberation Serif, serif" font-style="italic" fill="#111" textLength="35" lengthAdjust="spacingAndGlyphs">θ = 0°</text>
<text x="406.3" y="242.6" font-size="14.3" font-family="Liberation Serif, serif" font-style="italic" fill="#111" textLength="45" lengthAdjust="spacingAndGlyphs">θ = 0.5°</text>
<text x="404.9" y="258.6" font-size="14.3" font-family="Liberation Serif, serif" font-style="italic" fill="#111" textLength="45" lengthAdjust="spacingAndGlyphs">θ = 0.8°</text>
<text x="496.3" y="210.1" font-size="14.3" font-family="Liberation Serif, serif" font-style="italic" fill="#111" textLength="35" lengthAdjust="spacingAndGlyphs">θ = 0°</text>
<text x="497" y="228.9" font-size="14.3" font-family="Liberation Serif, serif" font-style="italic" fill="#111" textLength="45" lengthAdjust="spacingAndGlyphs">θ = 0.5°</text>
<text x="497" y="242.6" font-size="14.3" font-family="Liberation Serif, serif" font-style="italic" fill="#111" textLength="45" lengthAdjust="spacingAndGlyphs">θ = 0.8°</text>
<text x="224.4" y="205.2" font-size="14" font-family="Liberation Serif, serif" font-style="italic" fill="#111" stroke="#111" stroke-width="0.25">PP<tspan font-size="10.1" dy="-5.3">+</tspan></text>
<text x="124.4" y="250.6" font-size="14" font-family="Liberation Serif, serif" font-style="italic" fill="#111" stroke="#111" stroke-width="0.25">PP<tspan font-size="10.1" dy="-5.3">−</tspan></text>
<text x="173.2" y="250.4" font-size="14" font-family="Liberation Serif, serif" font-style="italic" fill="#111" stroke="#111" stroke-width="0.25">PP<tspan font-size="10.1" dy="-5.3">int</tspan></text>
<text transform="translate(82.6,312.3) rotate(-90)" font-size="14.5" font-family="Liberation Serif, serif" fill="#111" font-style="italic">y</text>
<text transform="translate(83.8,301.8) rotate(-90)" font-size="14" font-family="Liberation Sans, sans-serif" fill="#111" textLength="7.5" lengthAdjust="spacingAndGlyphs">(</text>
<text transform="translate(79.0,292.0) rotate(-90)" font-size="10.5" font-family="Liberation Serif, serif" fill="#111" font-style="italic" textLength="9.8" lengthAdjust="spacingAndGlyphs">qc</text>
<line x1="80.3" y1="281.6" x2="80.3" y2="293.2" stroke="#111" stroke-width="0.7" />
<text transform="translate(86.2,292.2) rotate(-90)" font-size="10.5" font-family="Liberation Serif, serif" fill="#111" font-style="italic" textLength="9.6" lengthAdjust="spacingAndGlyphs">ω<tspan font-size="7" dy="1.5">1</tspan></text>
<text transform="translate(83.3,281.5) rotate(-90)" font-size="12" font-family="Liberation Sans, sans-serif" fill="#111" >,</text>
<text transform="translate(83.3,277) rotate(-90)" font-size="12" font-family="Liberation Sans, sans-serif" fill="#111" textLength="90.2" lengthAdjust="spacingAndGlyphs">dimensionless)</text>
<text transform="translate(359,357) rotate(-90)" font-size="12" font-family="Liberation Serif, serif" font-style="italic"  fill="#222" stroke="#222" stroke-width="0.25">TO<tspan font-size="9.0" dy="3.6">Cd − Se</tspan></text>
<text transform="translate(381.5,384) rotate(-90)" font-size="12" font-family="Liberation Serif, serif" font-style="italic"  fill="#222" stroke="#222" stroke-width="0.25">TO<tspan font-size="9.0" dy="-5.4">Zn</tspan><tspan font-size="9.0" dx="-8.6" dy="9.4">Zn − Se</tspan></text>
<text transform="translate(403.5,384) rotate(-90)" font-size="12" font-family="Liberation Serif, serif" font-style="italic"  fill="#222" stroke="#222" stroke-width="0.25">TO<tspan font-size="9.0" dy="-5.4">Cd</tspan><tspan font-size="9.0" dx="-8.6" dy="9.4">Zn − Se</tspan></text>
<line x1="44.6" y1="380" x2="44.6" y2="367.0" stroke="#000" stroke-width="1.3" />
<polygon points="44.6,360.5 47.60,367.00 41.60,367.00" fill="#000"/>
<line x1="44.6" y1="378" x2="44.6" y2="389.9" stroke="#000" stroke-width="1.3" />
<polygon points="44.6,396.4 41.60,389.90 47.60,389.90" fill="#000"/>
<text x="24" y="384.5" font-size="17" font-family="Liberation Serif, serif" font-style="italic" fill="#222">k<tspan font-size="11.9" dy="3.7">i</tspan></text>
<line x1="25.5" y1="370.56" x2="32.5" y2="370.56" stroke="#222" stroke-width="0.9" />
<polygon points="33.5,370.56 31,368.96 31,372.16" fill="#222"/>
<text x="56.6" y="384.5" font-size="17" font-family="Liberation Serif, serif" font-style="italic" fill="#222">k<tspan font-size="11.9" dy="3.7">s</tspan></text>
<line x1="58.1" y1="370.56" x2="65.1" y2="370.56" stroke="#222" stroke-width="0.9" />
<polygon points="66.1,370.56 63.6,368.96 63.6,372.16" fill="#222"/>
<path d="M33.4,406 L33.4,430.2 A11.6,6.4 0 0 0 56.6,430.2 L56.6,406 A11.6,6.4 0 0 0 33.4,406 Z" fill="#fbf27e" stroke="#000" stroke-width="2"/>
<ellipse cx="45" cy="406" rx="11.6" ry="6.4" fill="#fbf27e" stroke="#000" stroke-width="2"/>
<text x="5" y="459" font-size="16" font-family="Liberation Sans, sans-serif" fill="#111" textLength="77.3" lengthAdjust="spacingAndGlyphs">Zn<tspan font-size="11" dy="4">0.5</tspan><tspan dy="-4">Cd</tspan><tspan font-size="11" dy="4">0.5</tspan><tspan dy="-4">Se</tspan></text>
<text x="13.7" y="482.5" font-size="17" font-family="Liberation Sans, sans-serif" font-style="italic" fill="#111" textLength="62.5" lengthAdjust="spacingAndGlyphs">Ab initio</text>
<text transform="translate(95.8,438.4) rotate(-90)" font-size="12.5" font-family="Liberation Sans, sans-serif" fill="#111" textLength="77" lengthAdjust="spacingAndGlyphs">I<tspan font-size="8" dy="2.5">R</tspan><tspan dy="-2.5"> (arb. units)</tspan></text>
<text transform="translate(475.6,438.6) rotate(-90)" font-size="12.5" font-family="Liberation Sans, sans-serif" fill="#111" textLength="78" lengthAdjust="spacingAndGlyphs">I<tspan font-size="8" dy="2.5">R</tspan><tspan dy="-2.5"> (arb. units)</tspan></text>
<line x1="125.5" y1="452.4" x2="125.5" y2="454.59999999999997" stroke="#444" stroke-width="0.9" />
<line x1="146.9" y1="452.4" x2="146.9" y2="454.59999999999997" stroke="#444" stroke-width="0.9" />
<line x1="168.3" y1="452.4" x2="168.3" y2="454.59999999999997" stroke="#444" stroke-width="0.9" />
<line x1="189.7" y1="452.4" x2="189.7" y2="454.59999999999997" stroke="#444" stroke-width="0.9" />
<line x1="211.1" y1="452.4" x2="211.1" y2="454.59999999999997" stroke="#444" stroke-width="0.9" />
<line x1="232.5" y1="452.4" x2="232.5" y2="454.59999999999997" stroke="#444" stroke-width="0.9" />
<line x1="253.9" y1="452.4" x2="253.9" y2="454.59999999999997" stroke="#444" stroke-width="0.9" />
<text x="125.5" y="465.8" font-size="11.3" font-family="Liberation Sans, sans-serif" fill="#111" text-anchor="middle" >150</text>
<text x="168.3" y="465.8" font-size="11.3" font-family="Liberation Sans, sans-serif" fill="#111" text-anchor="middle" >200</text>
<text x="211.1" y="465.8" font-size="11.3" font-family="Liberation Sans, sans-serif" fill="#111" text-anchor="middle" >250</text>
<text x="253.9" y="465.8" font-size="11.3" font-family="Liberation Sans, sans-serif" fill="#111" text-anchor="middle" >300</text>
<line x1="503.3" y1="452.3" x2="503.3" y2="454.5" stroke="#444" stroke-width="0.9" />
<line x1="524.4" y1="452.3" x2="524.4" y2="454.5" stroke="#444" stroke-width="0.9" />
<line x1="545.5" y1="452.3" x2="545.5" y2="454.5" stroke="#444" stroke-width="0.9" />
<line x1="566.6" y1="452.3" x2="566.6" y2="454.5" stroke="#444" stroke-width="0.9" />
<line x1="587.8" y1="452.3" x2="587.8" y2="454.5" stroke="#444" stroke-width="0.9" />
<line x1="608.9" y1="452.3" x2="608.9" y2="454.5" stroke="#444" stroke-width="0.9" />
<line x1="630.0" y1="452.3" x2="630.0" y2="454.5" stroke="#444" stroke-width="0.9" />
<text x="503.3" y="465.8" font-size="11.3" font-family="Liberation Sans, sans-serif" fill="#111" text-anchor="middle" >150</text>
<text x="545.5" y="465.8" font-size="11.3" font-family="Liberation Sans, sans-serif" fill="#111" text-anchor="middle" >200</text>
<text x="587.8" y="465.8" font-size="11.3" font-family="Liberation Sans, sans-serif" fill="#111" text-anchor="middle" >250</text>
<text x="630.0" y="465.8" font-size="11.3" font-family="Liberation Sans, sans-serif" fill="#111" text-anchor="middle" >300</text>
<text x="164.8" y="483.5" font-size="15" font-family="Liberation Serif, serif" font-style="italic" fill="#111">ω</text>
<text x="181.0" y="483.5" font-size="14.2" font-family="Liberation Sans, sans-serif" fill="#111">(cm<tspan font-size="9.0" dy="-6.0">-1</tspan><tspan dy="6.0">)</tspan></text>
<text x="542.8" y="483.5" font-size="15" font-family="Liberation Serif, serif" font-style="italic" fill="#111">ω</text>
<text x="559.0" y="483.5" font-size="14.2" font-family="Liberation Sans, sans-serif" fill="#111">(cm<tspan font-size="9.0" dy="-6.0">-1</tspan><tspan dy="6.0">)</tspan></text>
<text x="238.2" y="444.5" font-size="17" font-family="Liberation Sans, sans-serif" fill="#111" text-anchor="middle" textLength="43.5" lengthAdjust="spacingAndGlyphs">0 GPa</text>
<text x="525.7" y="363.9" font-size="17" font-family="Liberation Sans, sans-serif" fill="#111" text-anchor="middle" textLength="53.4" lengthAdjust="spacingAndGlyphs">10 GPa</text>
<path d="M118.10,448.70 C119.25,448.67 122.68,448.58 125.00,448.50 C127.32,448.42 130.20,448.57 132.00,448.20 C133.80,447.83 134.65,446.92 135.80,446.30 C136.95,445.68 137.95,444.75 138.90,444.50 C139.85,444.25 140.42,444.93 141.50,444.80 C142.58,444.67 144.30,444.43 145.40,443.70 C146.50,442.97 147.32,442.08 148.10,440.40 C148.88,438.72 149.43,436.52 150.10,433.60 C150.77,430.68 151.43,427.15 152.10,422.90 C152.77,418.65 153.52,416.45 154.10,408.10 C154.68,399.75 155.12,382.32 155.60,372.80 C156.08,363.28 156.55,355.30 157.00,351.00 C157.45,346.70 157.85,347.80 158.30,347.00 C158.75,346.20 159.25,346.20 159.70,346.20 C160.15,346.20 160.62,346.28 161.00,347.00 C161.38,347.72 161.53,348.12 162.00,350.50 C162.47,352.88 163.22,357.58 163.80,361.30 C164.38,365.02 164.82,368.68 165.50,372.80 C166.18,376.92 167.22,382.13 167.90,386.00 C168.58,389.87 168.87,392.88 169.60,396.00 C170.33,399.12 171.40,402.47 172.30,404.70 C173.20,406.93 174.22,407.72 175.00,409.40 C175.78,411.08 176.22,412.78 177.00,414.80 C177.78,416.82 178.80,420.42 179.70,421.50 C180.60,422.58 181.62,420.97 182.40,421.30 C183.18,421.63 183.62,422.23 184.40,423.50 C185.18,424.77 186.20,426.98 187.10,428.90 C188.00,430.82 188.90,432.98 189.80,435.00 C190.70,437.02 191.38,439.10 192.50,441.00 C193.62,442.90 194.93,445.05 196.50,446.40 C198.07,447.75 198.98,448.50 201.90,449.10 C204.82,449.70 209.32,449.78 214.00,450.00 C218.68,450.22 221.50,450.33 230.00,450.40 C238.50,450.47 259.17,450.40 265.00,450.40" fill="none" stroke="#111" stroke-width="1.15"/>
<path d="M495.20,447.85 L496.23,448.58 L497.27,447.75 L498.30,448.63 L499.33,447.74 L500.37,448.59 L501.40,447.99 L502.42,448.69 L503.45,448.22 L504.48,449.36 L505.50,448.84 L506.52,449.17 L507.55,448.46 L508.58,448.67 L509.60,447.88 L510.62,447.78 L511.65,446.59 L512.68,446.14 L513.70,444.99 L514.95,446.07 L516.20,445.59 L517.30,445.70 L518.40,444.65 L519.50,444.76 L520.73,444.40 L521.95,445.05 L523.17,444.95 L524.40,445.65 L525.65,443.17 L526.90,441.69 L528.00,439.26 L529.10,438.45 L530.90,436.28 L532.70,440.28 L533.80,442.28 L534.90,445.77 L536.25,445.82 L537.60,447.08 L538.73,445.92 L539.85,446.49 L540.98,445.24 L542.10,445.62 L543.20,444.06 L544.30,443.37 L545.40,441.94 L546.55,437.73 L547.70,432.88 L548.80,428.74 L549.90,423.60 L551.05,424.87 L552.20,425.06 L553.30,424.72 L554.40,423.27 L555.85,424.19 L557.30,423.87 L558.65,422.19 L560.00,419.32 L561.15,418.67 L562.30,416.91 L563.40,420.31 L564.50,422.60 L565.60,423.99 L566.70,423.99 L567.83,423.05 L568.97,420.92 L570.10,420.03 L571.55,416.20 L573.00,413.02 L574.60,416.13 L576.20,412.28 L577.30,409.97 L578.40,408.90 L580.20,412.43 L581.33,415.64 L582.47,417.20 L583.60,419.94 L584.70,421.62 L585.80,424.58 L586.90,426.26 L588.03,428.67 L589.17,429.71 L590.30,432.44 L591.43,433.75 L592.57,436.21 L593.70,437.46 L594.80,439.34 L595.90,440.26 L597.00,442.57 L598.13,442.46 L599.27,443.77 L600.40,443.58 L601.52,443.40 L602.65,442.22 L603.77,441.90 L604.90,440.87 L606.00,440.39 L607.10,439.09 L608.20,439.20 L609.65,437.44 L611.10,436.62 L612.45,437.66 L613.80,440.11 L614.93,441.20 L616.07,443.33 L617.20,444.46 L618.33,445.96 L619.45,445.97 L620.58,447.24 L621.70,447.58 L622.82,448.61 L623.94,448.47 L625.06,449.32 L626.18,449.02 L627.30,450.05 L628.42,449.62 L629.53,450.61 L630.65,449.90 L631.77,450.78 L632.88,450.34 L634.00,450.87 L635.05,450.48 L636.10,451.12 L637.15,450.50 L638.20,451.04 L639.25,450.30 L640.30,451.28 L641.35,450.39 L642.40,451.20 L643.45,450.66 L644.50,451.00" fill="none" stroke="#111" stroke-width="1.1" stroke-linejoin="round"/>
<text x="167.6" y="359.8" font-size="13.5" font-family="Liberation Serif, serif" font-style="italic" fill="#222" stroke="#222" stroke-width="0.25">TO<tspan font-size="9.5" dx="0.5" dy="2.9">Cd − Se</tspan></text>
<text x="173.4" y="390" font-size="13.5" font-family="Liberation Serif, serif" font-style="italic" fill="#222" stroke="#222" stroke-width="0.25">TO<tspan font-size="9.5" dx="1" dy="-5.1">Zn</tspan><tspan font-size="9.5" dx="-10.6" dy="9.9">Zn − Se</tspan></text>
<text x="180.7" y="414.6" font-size="13.5" font-family="Liberation Serif, serif" font-style="italic" fill="#222" stroke="#222" stroke-width="0.25">TO<tspan font-size="9.5" dx="1" dy="-5.1">Cd</tspan><tspan font-size="9.5" dx="-10.6" dy="9.9">Zn − Se</tspan></text>
<line x1="159.5" y1="346" x2="159.5" y2="452" stroke="#222" stroke-width="0.8" stroke-dasharray="3,1.5,1,1.5"/>
<line x1="171" y1="395" x2="171" y2="452" stroke="#222" stroke-width="0.8" stroke-dasharray="3,1.5,1,1.5"/>
<line x1="182.7" y1="421" x2="182.7" y2="452" stroke="#222" stroke-width="0.8" stroke-dasharray="3,1.5,1,1.5"/>
<polygon points="145.10,431.30 154.40,431.30 154.40,429.60 158.90,432.80 154.40,436.00 154.40,434.30 145.10,434.30" fill="#ffffff" stroke="#777" stroke-width="0.7"/>
<polygon points="185.70,431.30 177.10,431.30 177.10,429.60 172.60,432.80 177.10,436.00 177.10,434.30 185.70,434.30" fill="#ffffff" stroke="#777" stroke-width="0.7"/>
<polygon points="156.10,439.20 164.40,439.20 164.40,437.50 168.90,441.00 164.40,444.50 164.40,442.80 156.10,442.80" fill="#000" />
<polygon points="197.80,439.20 189.50,439.20 189.50,437.50 185.00,441.00 189.50,444.50 189.50,442.80 197.80,442.80" fill="#000" />
<text transform="translate(555.5,418) rotate(-90)" font-size="12" font-family="Liberation Serif, serif" font-style="italic"  fill="#222" stroke="#222" stroke-width="0.25">TO<tspan font-size="9.0" dy="3.6">Cd − Se</tspan></text>
<text transform="translate(579.8,407) rotate(-90)" font-size="12" font-family="Liberation Serif, serif" font-style="italic"  fill="#222" stroke="#222" stroke-width="0.25">TO<tspan font-size="9.0" dy="-5.4">Zn</tspan><tspan font-size="9.0" dx="-8.6" dy="9.4">Zn − Se</tspan></text>
<text transform="translate(616.5,410.8) rotate(-90)" font-size="12" font-family="Liberation Serif, serif" font-style="italic"  fill="#222" stroke="#222" stroke-width="0.25">TO<tspan font-size="9.0" dy="-5.4">Cd</tspan><tspan font-size="9.0" dx="-8.6" dy="9.4">Zn − Se</tspan></text>
<line x1="555.1" y1="425" x2="555.1" y2="452" stroke="#222" stroke-width="0.8" stroke-dasharray="3,1.5,1,1.5"/>
<line x1="576.2" y1="410" x2="576.2" y2="452" stroke="#222" stroke-width="0.8" stroke-dasharray="3,1.5,1,1.5"/>
<line x1="611.1" y1="437" x2="611.1" y2="452" stroke="#222" stroke-width="0.8" stroke-dasharray="3,1.5,1,1.5"/>
<polygon points="541.00,440.80 551.10,440.80 551.10,439.30 555.10,442.10 551.10,444.90 551.10,443.40 541.00,443.40" fill="#ffffff" stroke="#777" stroke-width="0.7"/>
<polygon points="591.00,440.80 581.50,440.80 581.50,439.30 577.50,442.10 581.50,444.90 581.50,443.40 591.00,443.40" fill="#ffffff" stroke="#777" stroke-width="0.7"/>
<polygon points="561.80,431.10 570.10,431.10 570.10,429.50 574.60,432.70 570.10,435.90 570.10,434.30 561.80,434.30" fill="#000" />
<polygon points="627.30,431.10 619.50,431.10 619.50,429.50 615.00,432.70 619.50,435.90 619.50,434.30 627.30,434.30" fill="#000" />
<rect x="117.2" y="342.5" width="149.5" height="109.89999999999998" fill="none" stroke="#222" stroke-width="1.25" stroke-linejoin="round"/>
<rect x="494.7" y="341.6" width="150.3" height="110.69999999999999" fill="none" stroke="#222" stroke-width="1.25" stroke-linejoin="round"/>
<line x1="117.2" y1="20" x2="267" y2="20" stroke="#555" stroke-width="1.2" />
<line x1="117.2" y1="140.5" x2="267" y2="140.5" stroke="#444" stroke-width="1.2" />
<line x1="117.2" y1="19.4" x2="117.2" y2="141.1" stroke="#111" stroke-width="1.3" />
<line x1="267" y1="19.4" x2="267" y2="141.1" stroke="#111" stroke-width="1.3" />
<line x1="306.5" y1="19.5" x2="456.5" y2="19.5" stroke="#555" stroke-width="1.2" />
<line x1="306.5" y1="140.5" x2="456.5" y2="140.5" stroke="#444" stroke-width="1.2" />
<line x1="306.5" y1="18.9" x2="306.5" y2="141.1" stroke="#111" stroke-width="1.3" />
<line x1="456.5" y1="18.9" x2="456.5" y2="141.1" stroke="#111" stroke-width="1.3" />
<line x1="495.7" y1="19.5" x2="645.3" y2="19.5" stroke="#555" stroke-width="1.2" />
<line x1="495.7" y1="140.5" x2="645.3" y2="140.5" stroke="#444" stroke-width="1.2" />
<line x1="495.7" y1="18.9" x2="495.7" y2="141.1" stroke="#111" stroke-width="1.3" />
<line x1="645.3" y1="18.9" x2="645.3" y2="141.1" stroke="#111" stroke-width="1.3" />
</svg></body></html>
